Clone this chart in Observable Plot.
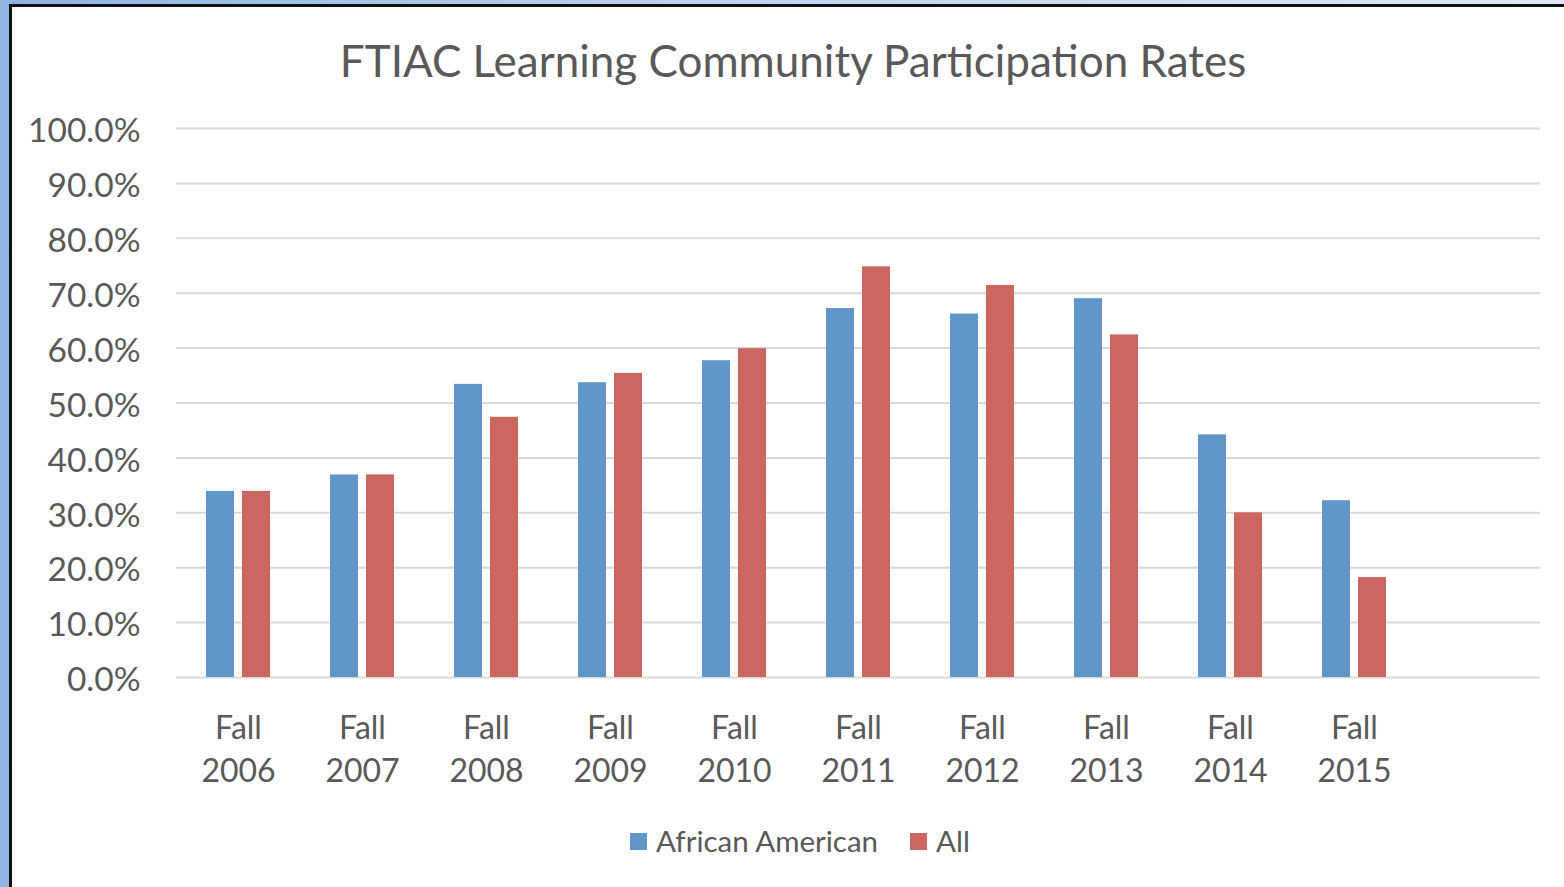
<!DOCTYPE html>
<html>
<head>
<meta charset="utf-8">
<script src="https://cdn.jsdelivr.net/npm/d3@7"></script>
<script src="https://cdn.jsdelivr.net/npm/@observablehq/plot@0.6"></script>
<style>
  html, body { margin: 0; padding: 0; }
  body {
    width: 1564px; height: 887px; position: relative; overflow: hidden;
    background: linear-gradient(to right, #8db3e2 0%, #b9d0ee 40%, #dfe9f6 100%);
    font-family: Lato, "Open Sans", sans-serif;
  }
  #frame {
    position: absolute; left: 9px; top: 4px; right: -5px; bottom: -5px;
    background: #fff; border-left: 3px solid #111; border-top: 3px solid #111;
  }
  #title {
    position: absolute; left: 0; width: 1586px; top: 38px; text-align: center;
    font-size: 44px; line-height: 44px; color: #595959;
  }
  #chart { position: absolute; left: 0; top: 100px; }
  #legend {
    position: absolute; left: 630px; top: 826px; display: flex; align-items: center;
    font-size: 29.5px; line-height: 30px; color: #595959;
  }
  .sw { display: inline-block; width: 17px; height: 17px; margin-right: 9px; }
  .item { display: flex; align-items: center; margin-right: 32px; }
</style>
</head>
<body>
<div id="frame"></div>
<div id="title">FTIAC Learning Community Participation Rates</div>
<div id="chart"></div>
<div id="legend"></div>
<script>
const categories = ["Fall 2006", "Fall 2007", "Fall 2008", "Fall 2009", "Fall 2010",
                    "Fall 2011", "Fall 2012", "Fall 2013", "Fall 2014", "Fall 2015", ""];
const seriesNames = ["African American", "All"];
const africanAmerican = [0.339, 0.369, 0.534, 0.537, 0.577, 0.672, 0.662, 0.690, 0.442, 0.322, null];
const allStudents     = [0.339, 0.369, 0.474, 0.554, 0.599, 0.748, 0.714, 0.624, 0.300, 0.182, null];
const seriesColors = ["#6196cb", "#cd6660"];
const yTicks = [0, 0.1, 0.2, 0.3, 0.4, 0.5, 0.6, 0.7, 0.8, 0.9, 1.0];

const rows = categories.flatMap((c, i) => [
  {season: c, group: seriesNames[0], value: africanAmerican[i]},
  {season: c, group: seriesNames[1], value: allStudents[i]}
]);

const chart = Plot.plot({
  width: 1564,
  height: 710,
  marginTop: 28,
  marginBottom: 133,
  marginLeft: 175,
  marginRight: 23,
  style: {fontFamily: "Lato, 'Open Sans', sans-serif", fontSize: "32px", color: "#595959", background: "transparent", overflow: "visible"},
  fx: {domain: categories, paddingInner: 0, paddingOuter: 0, label: null},
  x: {domain: seriesNames, paddingInner: 0.222, paddingOuter: 0.80, axis: null},
  y: {domain: [0, 1]},
  color: {domain: seriesNames, range: seriesColors},
  marks: [
    Plot.ruleY(yTicks, {stroke: "#d9d9d9", strokeWidth: 2}),
    Plot.barY(rows, {fx: "season", x: "group", y: "value", fill: "group"}),
    Plot.axisY(yTicks, {tickFormat: d3.format(".1%"), tickSize: 0, tickPadding: 36, label: null,
                        fontSize: 33.5, dy: 3}),
    Plot.axisFx({anchor: "bottom", tickSize: 0, tickPadding: 31, lineHeight: 1.34, label: null,
                 fontSize: 32, tickFormat: d => d.replace(" ", "\n")})
  ]
});
document.getElementById("chart").appendChild(chart);

const legend = document.getElementById("legend");
seriesNames.forEach((s, i) => {
  const item = document.createElement("div");
  item.className = "item";
  const sw = document.createElement("span");
  sw.className = "sw";
  sw.style.background = seriesColors[i];
  item.appendChild(sw);
  item.appendChild(document.createTextNode(s));
  legend.appendChild(item);
});
</script>
</body>
</html>
